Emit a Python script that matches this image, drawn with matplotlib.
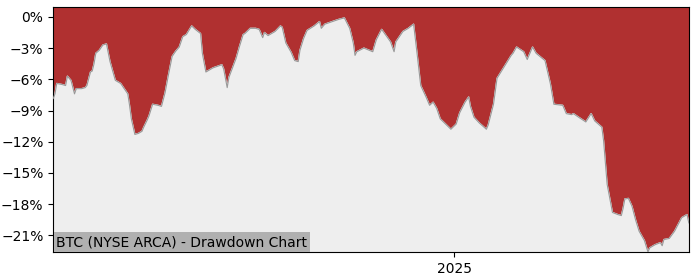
import pandas as pd
import matplotlib
matplotlib.use("Agg")
import matplotlib.pyplot as plt
import matplotlib.dates as mdates
from matplotlib.ticker import MultipleLocator, PercentFormatter

title = "BTC (NYSE ARCA) - Drawdown Chart"
start = pd.Timestamp("2024-05-20")

# days after start
days = [0, 1, 2, 5, 7, 8, 10, 12, 13, 16, 18, 19, 21, 22, 23, 24, 26, 28, 30, 32,
        35, 38, 40, 42, 43, 44, 46, 48, 50, 51, 53, 54, 56, 59, 61, 63, 65, 67, 69, 71,
        73, 75, 78, 80, 83, 84, 86, 90, 95, 96, 98, 99, 103, 105, 107, 108, 111, 114, 116, 118,
        119, 121, 125, 128, 129, 131, 134, 136, 138, 139, 141, 143, 147, 150, 151, 153, 158, 161, 164, 167,
        169, 170, 171, 175, 180, 182, 185, 190, 192, 193, 195, 197, 200, 203, 205, 207, 210, 212, 214, 216,
        218, 221, 224, 227, 229, 232, 234, 235, 237, 240, 244, 245, 248, 250, 254, 258, 259, 261, 265, 267,
        270, 272, 277, 280, 282, 287, 289, 292, 293, 296, 300, 303, 305, 309, 310, 312, 315, 318, 320, 321,
        322, 324, 326, 328, 330, 333, 335, 336, 339, 342, 343, 344, 347, 350, 354, 357, 358]

# drawdown in percent
drawdown = [-7.85, -7.4, -6.4, -6.5, -6.6, -5.7, -6.1, -7.4, -6.9, -6.9, -6.8, -6.6, -5.3, -5.2, -4.5, -3.5, -3.2, -2.7, -2.6, -4.3,
            -6.1, -6.4, -6.9, -7.4, -8.5, -9.8, -11.3, -11.2, -11.0, -10.6, -9.9, -9.5, -8.4, -8.5, -8.6, -7.3, -5.5, -3.8, -3.3, -2.9,
            -1.9, -1.7, -0.87, -1.2, -1.6, -3.5, -5.3, -4.9, -4.6, -5.0, -6.8, -5.8, -4.0, -2.8, -1.7, -1.6, -1.1, -1.1, -1.2, -2.0,
            -1.5, -1.8, -1.4, -0.87, -1.0, -2.5, -3.4, -4.2, -4.3, -3.2, -2.1, -1.3, -0.87, -0.45, -1.1, -0.7, -0.4, -0.23, -0.1, -1.1,
            -2.5, -3.7, -3.35, -3.0, -3.35, -2.2, -1.2, -2.4, -3.35, -2.4, -1.9, -1.4, -1.1, -0.7, -3.6, -6.6, -7.7, -8.5, -8.2, -8.8,
            -9.8, -10.3, -10.8, -10.3, -9.2, -8.2, -7.7, -8.6, -9.65, -10.2, -10.8, -10.4, -8.4, -5.9, -4.8, -3.7, -3.5, -2.9, -3.35, -4.1,
            -2.9, -3.5, -4.2, -6.4, -8.4, -8.5, -9.3, -9.4, -9.3, -9.65, -10.1, -9.3, -10.0, -10.6, -11.9, -16.1, -18.8, -19.0, -19.1, -18.4,
            -17.5, -17.45, -18.2, -19.5, -20.6, -21.5, -22.6, -22.2, -21.9, -21.7, -22.0, -21.4, -21.3, -20.6, -19.3, -19.0, -19.8]

dates = start + pd.to_timedelta(days, unit="D")

fig = plt.figure(figsize=(7, 2.8), dpi=100)
ax = fig.add_axes([0.076, 0.1, 0.908, 0.875])
ax.set_facecolor("#b03030")
ax.fill_between(dates, drawdown, -30, color="#eeeeee", zorder=2)
ax.plot(dates, drawdown, color="#999999", linewidth=0.8, zorder=3)

ax.set_xlim(dates[0], dates[-1])
ax.set_ylim(-22.6, 0.95)
ax.yaxis.set_major_locator(MultipleLocator(3))
ax.yaxis.set_major_formatter(PercentFormatter(decimals=0))
ax.xaxis.set_major_locator(mdates.YearLocator())
ax.xaxis.set_major_formatter(mdates.DateFormatter("%Y"))
ax.tick_params(labelsize=10)

ax.text(0.005, 0.012, title, transform=ax.transAxes, fontsize=10, zorder=5,
        ha="left", va="bottom",
        bbox=dict(facecolor="#b0b0b0", edgecolor="none", pad=2))

fig.savefig("out.png", dpi=100)
